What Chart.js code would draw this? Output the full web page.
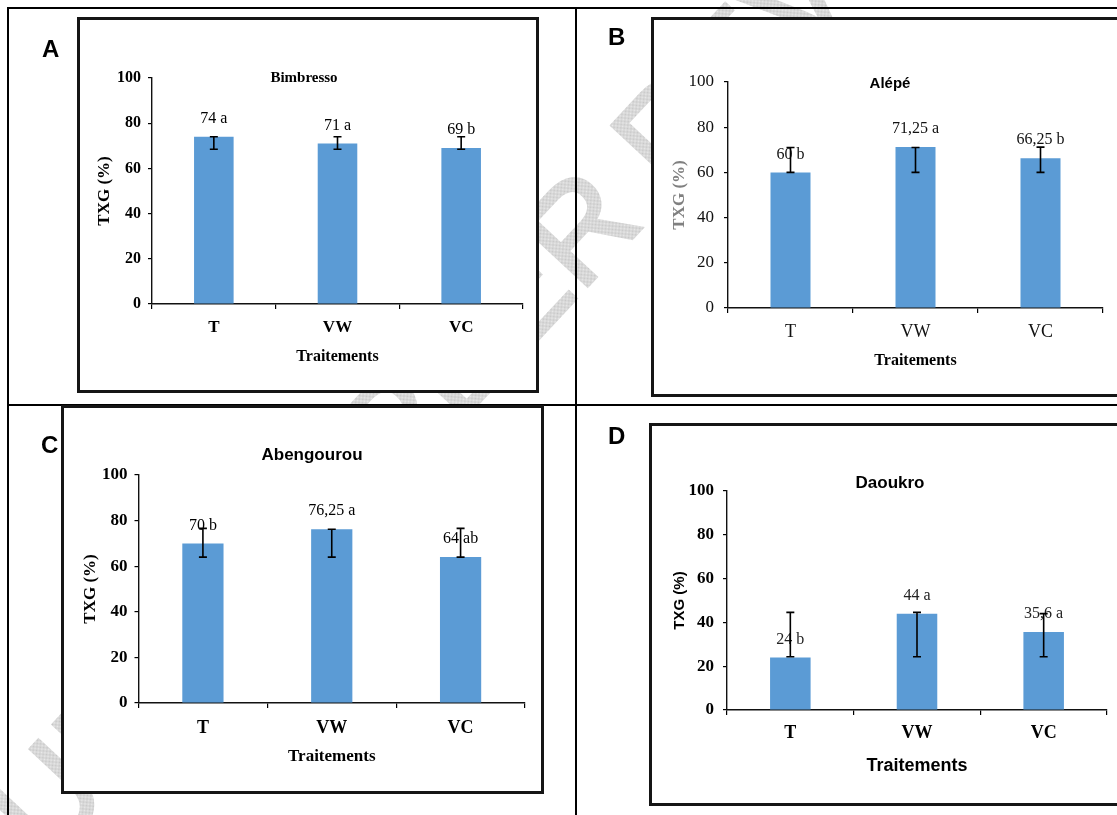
<!DOCTYPE html>
<html>
<head>
<meta charset="utf-8">
<script src="https://cdn.jsdelivr.net/npm/chart.js@4.4.1/dist/chart.umd.min.js"></script>
<style>
html,body{margin:0;padding:0;background:#fff;}
body{width:1117px;height:815px;overflow:hidden;position:relative;}
.line{position:absolute;background:#000;}
.box{position:absolute;border:3px solid #151515;background:#fff;box-sizing:border-box;}
.letter{position:absolute;font-family:'Liberation Sans',Arial,sans-serif;font-weight:bold;font-size:24px;line-height:24px;color:#000;}
canvas.chart{position:absolute;}
</style>
</head>
<body>
<canvas id="wm" width="1117" height="815" style="position:absolute;left:0;top:0"></canvas>
<div class="line" style="left:7px;top:7px;width:1120px;height:2px"></div>
<div class="line" style="left:7px;top:7px;width:2px;height:820px"></div>
<div class="line" style="left:575px;top:7px;width:2px;height:820px"></div>
<div class="line" style="left:7px;top:404px;width:1120px;height:2px"></div>

<div class="box" style="left:77px;top:17px;width:462px;height:376px"></div>
<div class="box" style="left:651px;top:17px;width:480px;height:380px"></div>
<div class="box" style="left:61px;top:405px;width:483px;height:389px"></div>
<div class="box" style="left:649px;top:423px;width:480px;height:383px"></div>

<div class="letter" style="left:42px;top:37px">A</div>
<div class="letter" style="left:608px;top:25px">B</div>
<div class="letter" style="left:41px;top:433px">C</div>
<div class="letter" style="left:608px;top:424px">D</div>

<canvas class="chart" id="cA"></canvas>
<canvas class="chart" id="cB"></canvas>
<canvas class="chart" id="cC"></canvas>
<canvas class="chart" id="cD"></canvas>

<script>
// ---------------- DATA ----------------
const categories = ['T', 'VW', 'VC'];
const yMin = 0, yMax = 100, yStep = 20;

const titleA = 'Bimbresso';
const valuesA = [74, 71, 69];
const errLowA = [68.5, 68.5, 68.5];
const errHighA = [74, 74, 74];
const labelsA = ['74 a', '71 a', '69 b'];

const titleB = 'Alépé';
const valuesB = [60, 71.25, 66.25];
const errLowB = [60, 60, 60];
const errHighB = [71, 71, 71.2];
const labelsB = ['60 b', '71,25 a', '66,25 b'];

const titleC = 'Abengourou';
const valuesC = [70, 76.25, 64];
const errLowC = [64, 64, 64];
const errHighC = [76.6, 76.2, 76.6];
const labelsC = ['70 b', '76,25 a', '64 ab'];

const titleD = 'Daoukro';
const valuesD = [24, 44, 35.6];
const errLowD = [24.3, 24.3, 24.3];
const errHighD = [44.6, 44.6, 44];
const labelsD = ['24 b', '44 a', '35,6 a'];

const yAxisTitle = 'TXG (%)';
const xAxisTitle = 'Traitements';
const watermarkText = 'UNDER PEER REVIEW';

// ---------------- WATERMARK (behind the panels) ----------------
(function(){
  const c = document.getElementById('wm');
  const ctx = c.getContext('2d');
  const pc = document.createElement('canvas');
  pc.width = 2; pc.height = 2;
  const p = pc.getContext('2d');
  p.fillStyle = '#eaeaea'; p.fillRect(0,0,2,2);
  p.fillStyle = '#c6c6c6';
  p.fillRect(0,0,1,1); p.fillRect(1,1,1,1);
  const pat = ctx.createPattern(pc, 'repeat');
  ctx.save();
  ctx.font = "134px 'Liberation Sans', Arial, sans-serif";
  const pre = ctx.measureText('UNDER PEE').width;
  ctx.translate(587, 287);
  ctx.rotate(-47 * Math.PI / 180);
  ctx.textAlign = 'left';
  ctx.textBaseline = 'alphabetic';
  ctx.fillStyle = pat;
  ctx.strokeStyle = pat;
  ctx.lineWidth = 3;
  ctx.fillText(watermarkText, -pre - 10, 0);
  ctx.strokeText(watermarkText, -pre - 10, 0);
  ctx.restore();
})();

// ---------------- CHARTS ----------------
const SERIF = "'Liberation Serif', 'Times New Roman', serif";
const SANS = "'Liberation Sans', Arial, sans-serif";
const panelData = {};

const overlayPlugin = {
  id: 'overlay',
  afterDatasetsDraw(chart) {
    const pd = panelData[chart.canvas.id];
    const ctx = chart.ctx;
    const y = chart.scales.y;
    const meta = chart.getDatasetMeta(0);
    ctx.save();
    meta.data.forEach((bar, i) => {
      const x = bar.x;
      ctx.font = pd.labelFont;
      ctx.fillStyle = pd.labelColor;
      ctx.textAlign = 'center';
      ctx.textBaseline = 'middle';
      ctx.fillText(pd.labels[i], x, bar.y - 18);
      const yl = y.getPixelForValue(pd.errLow[i]);
      const yh = y.getPixelForValue(pd.errHigh[i]);
      ctx.strokeStyle = '#000';
      ctx.lineWidth = 1.6;
      ctx.beginPath();
      ctx.moveTo(x, yl); ctx.lineTo(x, yh);
      ctx.moveTo(x - 4, yl); ctx.lineTo(x + 4, yl);
      ctx.moveTo(x - 4, yh); ctx.lineTo(x + 4, yh);
      ctx.stroke();
    });
    ctx.font = pd.titleFont;
    ctx.fillStyle = '#000';
    ctx.textAlign = 'center';
    ctx.textBaseline = 'middle';
    ctx.fillText(pd.title, pd.titlePos[0] - pd.canvas.x, pd.titlePos[1] - pd.canvas.y);
    ctx.restore();
  }
};

function makePanel(id, cfg) {
  const cv = document.getElementById(id);
  cv.width = cfg.canvas.w; cv.height = cfg.canvas.h;
  cv.style.left = cfg.canvas.x + 'px';
  cv.style.top = cfg.canvas.y + 'px';
  cv.style.width = cfg.canvas.w + 'px';
  cv.style.height = cfg.canvas.h + 'px';
  panelData[id] = cfg;
  const a = cfg.area;
  const yWidth = a.l - cfg.canvas.x;
  const padTop = a.t - cfg.canvas.y;
  const padRight = cfg.canvas.x + cfg.canvas.w - a.r;
  const xHeight = cfg.xTitleY - a.b + 20;
  const padBottom = cfg.canvas.y + cfg.canvas.h - a.b - xHeight;
  const xtLH = cfg.xTitleFont.size * 1.2;
  const ytLH = cfg.yTitleFont.size * 1.2;
  const xtickLH = cfg.xTickFont.size * 1.2;
  const tl = 5;
  new Chart(cv, {
    type: 'bar',
    data: {
      labels: categories,
      datasets: [{
        data: cfg.values,
        backgroundColor: '#5B9BD5',
        borderWidth: 0,
        barPercentage: 0.32,
        categoryPercentage: 1.0
      }]
    },
    options: {
      responsive: false,
      animation: false,
      devicePixelRatio: 1,
      layout: { padding: { left: 0, top: padTop, right: padRight, bottom: padBottom } },
      plugins: { legend: { display: false }, title: { display: false }, tooltip: { enabled: false } },
      scales: {
        x: {
          offset: true,
          grid: { display: true, offset: true, drawOnChartArea: false, drawTicks: true, tickLength: tl, color: '#000', lineWidth: 1.2 },
          border: { display: true, color: '#111', width: 1.6 },
          ticks: { color: cfg.tickColor, font: cfg.xTickFont, padding: cfg.xTickY - a.b - tl - xtickLH / 2, maxRotation: 0 },
          title: { display: true, text: xAxisTitle, color: '#000', font: cfg.xTitleFont,
                   padding: { top: 0, bottom: 20 - xtLH / 2 } },
          afterFit(s) { s.height = xHeight; }
        },
        y: {
          min: yMin, max: yMax,
          grid: { display: true, drawOnChartArea: false, drawTicks: true, tickLength: 4, color: '#000', lineWidth: 1.2 },
          border: { display: true, color: '#111', width: 1.4 },
          ticks: { stepSize: yStep, color: cfg.tickColor, font: cfg.yTickFont, padding: cfg.yTickPad },
          title: { display: true, text: yAxisTitle, color: cfg.yTitleColor, font: cfg.yTitleFont,
                   padding: { top: (cfg.yTitleX - cfg.canvas.x) - ytLH / 2, bottom: 0 } },
          afterFit(s) { s.width = yWidth; }
        }
      }
    },
    plugins: [overlayPlugin]
  });
}

makePanel('cA', {
  canvas: { x: 80, y: 20, w: 456, h: 370 },
  area: { l: 152, t: 78, r: 523, b: 304 },
  values: valuesA, errLow: errLowA, errHigh: errHighA, labels: labelsA,
  title: titleA, titlePos: [304, 78], titleFont: 'bold 15px ' + SERIF,
  labelFont: '16px ' + SERIF, labelColor: '#000', tickColor: '#000',
  yTickFont: { family: SERIF, size: 16, weight: 'bold' }, yTickPad: 7,
  xTickFont: { family: SERIF, size: 17, weight: 'bold' }, xTickY: 327.5,
  yTitleFont: { family: SERIF, size: 17, weight: 'bold' }, yTitleX: 105, yTitleColor: '#000',
  xTitleFont: { family: SERIF, size: 16, weight: 'bold' }, xTitleY: 357
});

makePanel('cB', {
  canvas: { x: 654, y: 20, w: 463, h: 374 },
  area: { l: 728, t: 82, r: 1103, b: 308 },
  values: valuesB, errLow: errLowB, errHigh: errHighB, labels: labelsB,
  title: titleB, titlePos: [890, 84], titleFont: 'bold 15px ' + SANS,
  labelFont: '16px ' + SERIF, labelColor: '#111', tickColor: '#111',
  yTickFont: { family: SERIF, size: 17, weight: 'normal' }, yTickPad: 10,
  xTickFont: { family: SERIF, size: 18, weight: 'normal' }, xTickY: 332,
  yTitleFont: { family: SERIF, size: 17, weight: 'bold' }, yTitleX: 679.5, yTitleColor: '#808080',
  xTitleFont: { family: SERIF, size: 16, weight: 'bold' }, xTitleY: 361
});

makePanel('cC', {
  canvas: { x: 64, y: 408, w: 477, h: 383 },
  area: { l: 138.5, t: 475, r: 525, b: 703 },
  values: valuesC, errLow: errLowC, errHigh: errHighC, labels: labelsC,
  title: titleC, titlePos: [312, 455], titleFont: 'bold 17px ' + SANS,
  labelFont: '16px ' + SERIF, labelColor: '#000', tickColor: '#000',
  yTickFont: { family: SERIF, size: 17, weight: 'bold' }, yTickPad: 7,
  xTickFont: { family: SERIF, size: 18, weight: 'bold' }, xTickY: 728,
  yTitleFont: { family: SERIF, size: 17, weight: 'bold' }, yTitleX: 91, yTitleColor: '#000',
  xTitleFont: { family: SERIF, size: 17, weight: 'bold' }, xTitleY: 757
});

makePanel('cD', {
  canvas: { x: 652, y: 426, w: 465, h: 377 },
  area: { l: 727, t: 491, r: 1107, b: 710 },
  values: valuesD, errLow: errLowD, errHigh: errHighD, labels: labelsD,
  title: titleD, titlePos: [890, 483], titleFont: 'bold 17px ' + SANS,
  labelFont: '16px ' + SERIF, labelColor: '#222', tickColor: '#000',
  yTickFont: { family: SERIF, size: 17, weight: 'bold' }, yTickPad: 9,
  xTickFont: { family: SERIF, size: 18, weight: 'bold' }, xTickY: 733,
  yTitleFont: { family: SANS, size: 15, weight: 'bold' }, yTitleX: 679.5, yTitleColor: '#000',
  xTitleFont: { family: SANS, size: 18, weight: 'bold' }, xTitleY: 766
});
</script>
</body>
</html>
